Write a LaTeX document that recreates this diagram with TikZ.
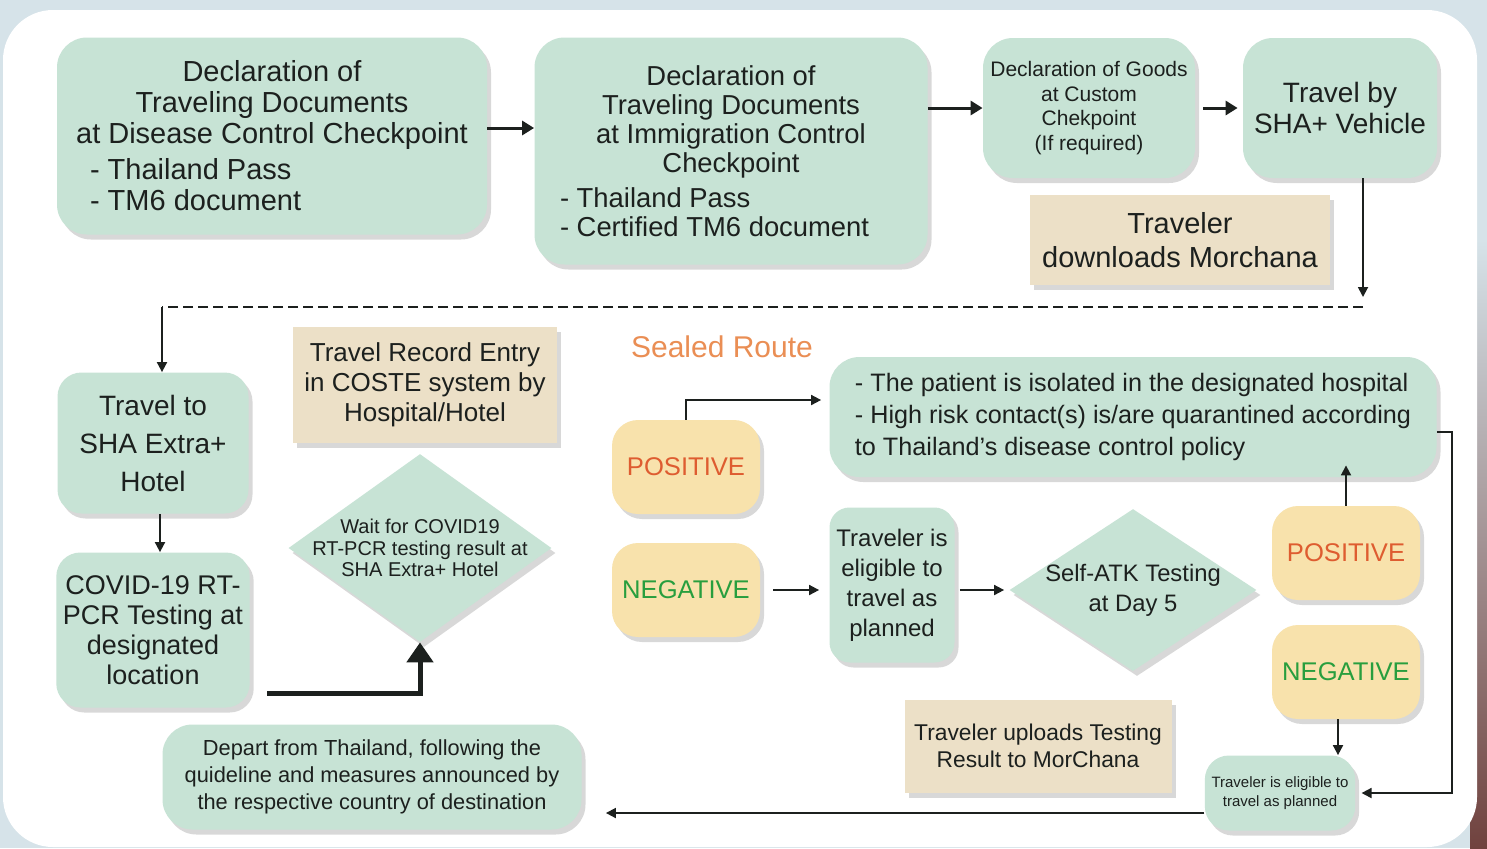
\documentclass[tikz,border=0pt]{standalone}
\usepackage{fontspec}
\setmainfont{Liberation Sans}
\usepackage{tikz}
\usetikzlibrary{shapes.geometric,shadows,arrows.meta}

\definecolor{mint}{RGB}{199,227,213}
\definecolor{sand}{RGB}{236,224,199}
\definecolor{butter}{RGB}{248,226,172}
\definecolor{posred}{RGB}{222,92,48}
\definecolor{neggreen}{RGB}{40,158,62}
\definecolor{routeorange}{RGB}{234,142,84}
\definecolor{ink}{RGB}{28,32,30}
\definecolor{backblue}{RGB}{214,227,233}
\definecolor{rimbrown}{RGB}{112,66,62}

\newcommand{\fs}[2]{\fontsize{#1}{#2}\selectfont}
\newcommand{\listline}[3]{\makebox[#1][l]{\hspace*{#2}#3}}

\begin{document}
\begin{tikzpicture}[x=0.5pt,y=-0.5pt,
  lifted/.style={drop shadow={shadow xshift=2pt,shadow yshift=-2.5pt,opacity=0.3}},
  box/.style={fill=mint, rounded corners=15pt, text=ink, align=center, lifted},
  note/.style={fill=sand, text=ink, align=center, lifted},
  result/.style={fill=butter, rounded corners=13pt, minimum width=74pt, minimum height=47pt,
    font=\fs{12.8}{15}, lifted},
  decision/.style={diamond, fill=mint, text=ink, align=center, inner xsep=-30pt, inner ysep=-4pt, lifted},
  arr/.style={draw=ink, line width=0.9pt, -{Triangle[length=5pt,width=5pt]}},
  bold/.style={draw=ink, line width=1.5pt, -{Triangle[length=6pt,width=7pt]}},
  heavy/.style={draw=ink, line width=2.5pt, -{Triangle[length=10pt,width=13pt]}},
  dashline/.style={draw=ink, line width=1pt, dash pattern=on 5pt off 2.5pt}
]
\useasboundingbox (0,0) rectangle (1487,848);

% backdrop
\fill[backblue] (0,0) rectangle (1487,848);
\shade[top color=backblue, bottom color=rimbrown] (1470,240) rectangle (1487,848);
\fill[white, rounded corners=25pt] (3,10) rectangle (1477,847);

% arrival
\node[box, minimum width=215pt, minimum height=98.5pt, font=\fs{14.5}{15.5}] (dcc) at (272,136)
  {Declaration of\\ Traveling Documents\\ at Disease Control Checkpoint\\[2.5pt]
   \listline{200pt}{9pt}{- Thailand Pass}\\ \listline{200pt}{9pt}{- TM6 document}};
\node[box, minimum width=196.5pt, minimum height=113.5pt, font=\fs{13.7}{14.5}] (imm) at (731,151)
  {Declaration of\\ Traveling Documents\\ at Immigration Control\\ Checkpoint\\[3pt]
   \listline{180pt}{4.5pt}{- Thailand Pass}\\ \listline{180pt}{4.5pt}{- Certified TM6 document}};
\node[box, minimum width=106pt, minimum height=70pt, font=\fs{10.5}{12.2}] (goods) at (1089,108)
  {Declaration of Goods\\ at Custom\\ Chekpoint\\ (If required)};
\node[box, minimum width=97pt, minimum height=70pt, font=\fs{14}{15.5}] (vehicle) at (1340,108)
  {Travel by\\ SHA+ Vehicle};
\node[note, minimum width=150pt, minimum height=45pt, font=\fs{14.5}{17}] (download) at (1180,240)
  {Traveler\\ downloads Morchana};

\draw[bold] ([yshift=4pt]dcc.east) -- ([yshift=4pt]dcc.east -| imm.west);
\draw[bold] (imm.east |- goods.west) -- (goods.west);
\draw[bold, shorten <=4pt, shorten >=2.5pt] (goods.east) -- (goods.east -| vehicle.west);

\coordinate (bend) at (1363,307);
\coordinate (drop) at (162,307);
\draw[arr, shorten >=5pt] (vehicle.south -| bend) -- (bend);
\draw[dashline] (bend) -- (drop);

% hotel
\node[box, rounded corners=12pt, minimum width=95.5pt, minimum height=70.5pt, font=\fs{14}{19}] (hotel) at (153,443)
  {Travel to\\ SHA Extra+\\ Hotel};
\node[box, rounded corners=12pt, minimum width=95.5pt, minimum height=77.5pt, font=\fs{13.5}{15}] (pcr) at (153,630)
  {COVID-19 RT-\\ PCR Testing at\\ designated\\ location};
\node[note, minimum width=132pt, minimum height=58pt, font=\fs{13}{15}] (coste) at (425,385)
  {Travel Record Entry\\ in COSTE system by\\ Hospital/Hotel};
\node[decision, minimum width=131.5pt, minimum height=94pt, font=\fs{10}{10.6}] (wait) at (420,548)
  {Wait for COVID19\\ RT-PCR testing result at\\ SHA Extra+ Hotel};
\node[box, minimum width=209.5pt, minimum height=52.5pt, font=\fs{10.9}{13.5}] (depart) at (372,777)
  {Depart from Thailand, following the\\ quideline and measures announced by\\ the respective country of destination};

\draw[arr] (drop) -- (drop |- hotel.north);
\draw[arr] ([xshift=3.5pt]hotel.south) -- ([xshift=3.5pt]pcr.north);
\draw[heavy] ([shift={(17,63)}]pcr.east) -| (wait.south);

% sealed route
\node[font=\fs{15}{15}, text=routeorange] (sealed) at (722,347) {Sealed Route};
\node[result, text=posred] (pos1) at (686,467) {POSITIVE};
\node[result, text=neggreen] (neg1) at (686,590) {NEGATIVE};
\node[box, minimum width=303.5pt, minimum height=60pt, align=left, font=\fs{12.6}{16}] (isolate) at (1133,417)
  {- The patient is isolated in the designated hospital\\
   - High risk contact(s) is/are quarantined according\\
   to Thailand's disease control policy};
\node[box, rounded corners=10pt, minimum width=62.5pt, minimum height=77.5pt, font=\fs{12}{15}] (eligible) at (892,585)
  {Traveler is\\ eligible to\\ travel as\\ planned};
\node[decision, minimum width=123.5pt, minimum height=81pt, font=\fs{11.9}{15}] (atk) at (1133,590)
  {Self-ATK Testing\\ at Day 5};
\node[result, text=posred] (pos2) at (1346,553) {POSITIVE};
\node[result, text=neggreen] (neg2) at (1346,672) {NEGATIVE};
\node[box, rounded corners=12pt, minimum width=75pt, minimum height=37.5pt, font=\fs{7.5}{9.5}] (okay) at (1280,793)
  {Traveler is eligible to\\ travel as planned};
\node[note, minimum width=133.5pt, minimum height=46.5pt, font=\fs{11.4}{13.5}] (upload) at (1038,746)
  {Traveler uploads Testing\\ Result to MorChana};

\draw[arr, shorten >=4pt] (pos1.north) |- ([yshift=8.5pt]isolate.west);
\draw[arr, shorten <=6.5pt, shorten >=5pt] (neg1.east) -- (neg1.east -| eligible.west);
\draw[arr, shorten <=2.5pt, shorten >=2.5pt] (eligible.east |- atk.west) -- (atk.west);
\draw[arr, shorten >=-6pt] (pos2.north) -- (pos2.north |- isolate.south);
\draw[arr] ([xshift=-4pt]neg2.south) -- ([xshift=-4pt]neg2.south |- okay.north);
\draw[arr, shorten >=3pt] ([yshift=-7.5pt]isolate.east) -- ++(15,0) |- (okay.east);
\draw[arr, shorten >=12pt] ([yshift=-10pt]okay.west) -- ([yshift=-10pt]okay.west -| depart.east);

\end{tikzpicture}
\end{document}
